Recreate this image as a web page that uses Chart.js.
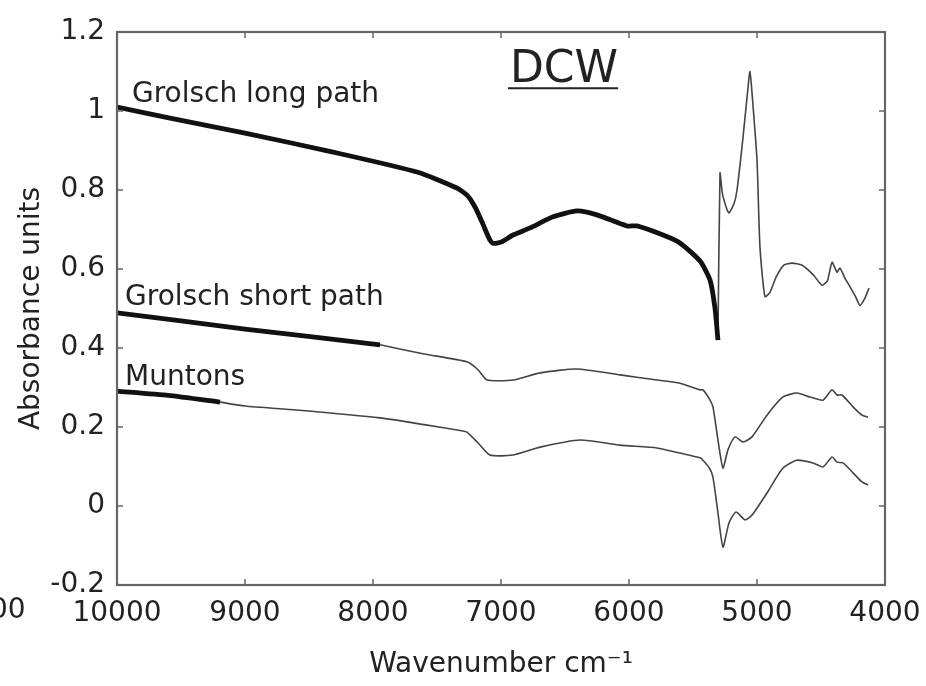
<!DOCTYPE html>
<html>
<head>
<meta charset="utf-8">
<script src="https://cdn.jsdelivr.net/npm/chart.js@4"></script>
<style>
  body { margin: 0; background: #fff; }
  canvas { display: block; }
</style>
</head>
<body>
<canvas id="spectrum" width="926" height="686"></canvas>
<script>
// Grolsch long path (thick part, then thin part after 5300 cm-1)
const longThickWn = [10000, 9586, 9000, 8312, 7650, 7344, 7260, 7200, 7150, 7086, 7060, 7000, 6906, 6773, 6594, 6406, 6250, 6016, 5938, 5734, 5602, 5445, 5367, 5328, 5305];
const longThickAbs = [1.01, 0.982, 0.944, 0.896, 0.845, 0.805, 0.785, 0.755, 0.72, 0.673, 0.665, 0.668, 0.686, 0.704, 0.732, 0.747, 0.737, 0.709, 0.709, 0.686, 0.666, 0.62, 0.572, 0.50, 0.42];
const longThinWn = [5305, 5289, 5270, 5234, 5219, 5180, 5156, 5109, 5070, 5055, 5040, 5000, 4977, 4938, 4900, 4850, 4790, 4727, 4650, 4560, 4492, 4450, 4414, 4375, 4352, 4310, 4273, 4230, 4195, 4156, 4125];
const longThinAbs = [0.42, 0.843, 0.79, 0.75, 0.742, 0.765, 0.80, 0.934, 1.06, 1.10, 1.05, 0.876, 0.656, 0.53, 0.54, 0.58, 0.61, 0.615, 0.61, 0.585, 0.559, 0.57, 0.617, 0.592, 0.602, 0.575, 0.555, 0.53, 0.508, 0.527, 0.552];

// Grolsch short path
const shortThickWn = [10000, 9000, 7945];
const shortThickAbs = [0.489, 0.448, 0.408];
const shortThinWn = [7945, 7600, 7266, 7180, 7109, 6906, 6695, 6406, 6070, 5781, 5602, 5445, 5422, 5370, 5344, 5305, 5266, 5227, 5172, 5109, 5039, 4922, 4797, 4688, 4586, 4484, 4414, 4375, 4336, 4250, 4180, 4133];
const shortThinAbs = [0.408, 0.385, 0.365, 0.345, 0.319, 0.319, 0.337, 0.347, 0.332, 0.319, 0.311, 0.294, 0.294, 0.27, 0.251, 0.167, 0.096, 0.142, 0.175, 0.162, 0.175, 0.23, 0.276, 0.286, 0.276, 0.268, 0.294, 0.281, 0.281, 0.251, 0.23, 0.225];

// Muntons
const muntonsThickWn = [10000, 9600, 9195];
const muntonsThickAbs = [0.291, 0.28, 0.263];
const muntonsThinWn = [9195, 9000, 8600, 7945, 7600, 7297, 7266, 7180, 7086, 6906, 6695, 6383, 6070, 5781, 5602, 5445, 5422, 5370, 5344, 5305, 5266, 5219, 5164, 5094, 5039, 4922, 4797, 4688, 4563, 4484, 4414, 4375, 4328, 4250, 4180, 4133];
const muntonsThinAbs = [0.263, 0.253, 0.243, 0.223, 0.206, 0.19, 0.187, 0.16, 0.129, 0.129, 0.149, 0.167, 0.154, 0.147, 0.134, 0.122, 0.116, 0.095, 0.073, -0.018, -0.104, -0.043, -0.015, -0.035, -0.023, 0.033, 0.096, 0.116, 0.109, 0.099, 0.124, 0.111, 0.109, 0.084, 0.061, 0.053];

// curve labels: text, wavenumber of left edge, absorbance of baseline
const curveLabels = [
  ['Grolsch long path', 9883, 1.023],
  ['Grolsch short path', 9937, 0.509],
  ['Muntons', 9937, 0.306],
];

const FONT = '"DejaVu Sans", sans-serif';

const toPoints = (wn, abs) => wn.map((x, i) => ({ x, y: abs[i] }));

const thick = (wn, abs) => ({
  data: toPoints(wn, abs),
  borderColor: '#111',
  borderWidth: 4.8,
  pointRadius: 0,
  tension: 0.2,
});
const thin = (wn, abs) => ({
  data: toPoints(wn, abs),
  borderColor: '#444',
  borderWidth: 1.6,
  pointRadius: 0,
  tension: 0.2,
});

const frameAndText = {
  id: 'frameAndText',
  afterDraw(chart) {
    const { ctx, chartArea: a, scales: { x, y } } = chart;
    ctx.save();

    // box
    ctx.strokeStyle = '#666';
    ctx.lineWidth = 2.2;
    ctx.strokeRect(a.left, a.top, a.right - a.left, a.bottom - a.top);

    // inward ticks on all sides
    ctx.lineWidth = 1.5;
    ctx.beginPath();
    x.ticks.forEach((t) => {
      const px = x.getPixelForValue(t.value);
      ctx.moveTo(px, a.bottom); ctx.lineTo(px, a.bottom - 6);
      ctx.moveTo(px, a.top); ctx.lineTo(px, a.top + 6);
    });
    y.ticks.forEach((t) => {
      const py = y.getPixelForValue(t.value);
      ctx.moveTo(a.left, py); ctx.lineTo(a.left + 6, py);
      ctx.moveTo(a.right, py); ctx.lineTo(a.right - 6, py);
    });
    ctx.stroke();

    // curve labels
    ctx.fillStyle = '#222';
    ctx.font = '28px ' + FONT;
    ctx.textAlign = 'left';
    ctx.textBaseline = 'alphabetic';
    curveLabels.forEach(([text, wn, abs]) => {
      ctx.fillText(text, x.getPixelForValue(wn), y.getPixelForValue(abs));
    });

    // DCW title, underlined
    ctx.font = '44px ' + FONT;
    const dx = x.getPixelForValue(6930);
    const dy = y.getPixelForValue(1.073);
    ctx.fillText('DCW', dx, dy);
    const w = ctx.measureText('DCW').width;
    ctx.lineWidth = 2;
    ctx.strokeStyle = '#222';
    ctx.beginPath();
    ctx.moveTo(dx - 2, dy + 6); ctx.lineTo(dx + w, dy + 6);
    ctx.stroke();

    // cut-off tick label at the left edge of the figure
    ctx.font = '28px ' + FONT;
    ctx.textAlign = 'center';
    ctx.textBaseline = 'top';
    ctx.fillText('11000', x.getPixelForValue(11000) - 8, a.bottom + 12);

    ctx.restore();
  },
};

new Chart(document.getElementById('spectrum'), {
  type: 'line',
  data: {
    datasets: [
      thick(longThickWn, longThickAbs),
      thin(longThinWn, longThinAbs),
      thick(shortThickWn, shortThickAbs),
      thin(shortThinWn, shortThinAbs),
      thick(muntonsThickWn, muntonsThickAbs),
      thin(muntonsThinWn, muntonsThinAbs),
    ],
  },
  options: {
    responsive: false,
    animation: false,
    layout: { padding: { top: 32, right: 41, left: 0, bottom: 0 } },
    plugins: { legend: { display: false }, tooltip: { enabled: false } },
    scales: {
      x: {
        type: 'linear',
        reverse: true,
        min: 4000,
        max: 10000,
        afterFit: (s) => { s.height = 101; s.paddingLeft = 0; s.paddingRight = 0; },
        grid: { display: false, drawTicks: false },
        border: { display: false },
        ticks: {
          stepSize: 1000,
          padding: 12,
          color: '#222',
          font: { family: FONT, size: 28 },
          callback: (v) => String(v),
        },
        title: {
          display: true,
          text: 'Wavenumber cm⁻¹',
          color: '#222',
          font: { family: FONT, size: 28 },
          padding: { top: 0, bottom: 4 },
        },
      },
      y: {
        min: -0.2,
        max: 1.2,
        afterFit: (s) => { s.width = 117; s.paddingTop = 0; s.paddingBottom = 0; },
        grid: { display: false, drawTicks: false },
        border: { display: false },
        ticks: {
          stepSize: 0.2,
          padding: 12,
          color: '#222',
          font: { family: FONT, size: 28 },
          callback: (v) => String(+v.toFixed(1)),
        },
        title: {
          display: true,
          text: 'Absorbance units',
          color: '#222',
          font: { family: FONT, size: 28 },
          padding: { top: 15, bottom: 0 },
        },
      },
    },
  },
  plugins: [frameAndText],
});
</script>
</body>
</html>
